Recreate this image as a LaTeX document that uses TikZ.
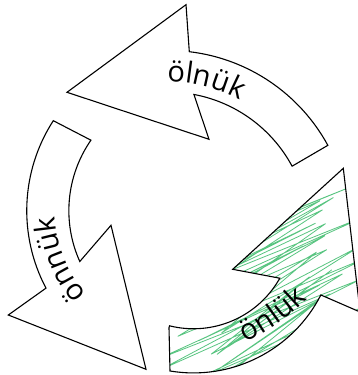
\documentclass[tikz,border=0pt]{standalone}
\usepackage{fontspec}
\setmainfont{Open Sans}
\usetikzlibrary{decorations.text}

\definecolor{scribblegreen}{RGB}{88,196,128}
\newcommand{\lblfont}{\fontsize{29pt}{32pt}\selectfont}

\begin{document}
\begin{tikzpicture}[x=1pt,y=1pt,
	outline/.style={draw=black,line width=1.1pt,line join=miter},
	scribble/.style={draw=scribblegreen,line width=0.8pt,line join=round},
	arclabel/.style={decorate,decoration={text along path,text align=center,text={|\lblfont|#1}}}]
	
	\clip (0,0) rectangle (358,375);
	
	% top arrow
	\draw [outline] (67,282.7) -- (186,370.3) -- (189.3,323.3) arc[start angle=83.3,end angle=28.6,radius=182]
		-- (292.1,208.8) arc[start angle=28.3,end angle=79.4,radius=141] -- (209,235.7) -- cycle;
	
	% left arrow
	\draw [outline] (53.3,254.3) arc[start angle=147.1,end angle=207.9,radius=165.6] -- (8.3,60) -- (146,5.7)
		-- (111,149.7) -- (79.8,113.5) arc[start angle=204.3,end angle=145.2,radius=123.5] -- cycle;
	
	% bottom arrow, scribbled
	\begin{scope}
		\clip (169,47.3) -- (170,4) arc[start angle=260.6,end angle=332.9,radius=143.2] -- (360.1,63) -- (343.3,206.7)
			-- (232.7,105.7) -- (279.8,96.8) arc[start angle=330.7,end angle=256,radius=99] -- cycle;
		\pgfmathsetseed{12}
		\draw [scribble] (150,-110) \foreach \i in {0,...,58} { -- ({150+80*rnd},{-110+5.4*\i+8*rnd}) -- ({300+70*rnd},{-35+5.4*\i+14*rnd}) };
	\end{scope}
	\draw [outline] (169,47.3) -- (170,4) arc[start angle=260.6,end angle=332.9,radius=143.2] -- (360.1,63) -- (343.3,206.7)
		-- (232.7,105.7) -- (279.8,96.8) arc[start angle=330.7,end angle=256,radius=99] -- cycle;
	
	\path [arclabel=ölnük] (154.8,292.4) arc[start angle=95,end angle=57,radius=151];
	\path [arclabel=önnük] (94,72) arc[start angle=225,end angle=179,radius=135];
	\path [arclabel=önlük] (226,24) .. controls (260,37) and (293,58) .. (322,92);
	
\end{tikzpicture}
\end{document}
